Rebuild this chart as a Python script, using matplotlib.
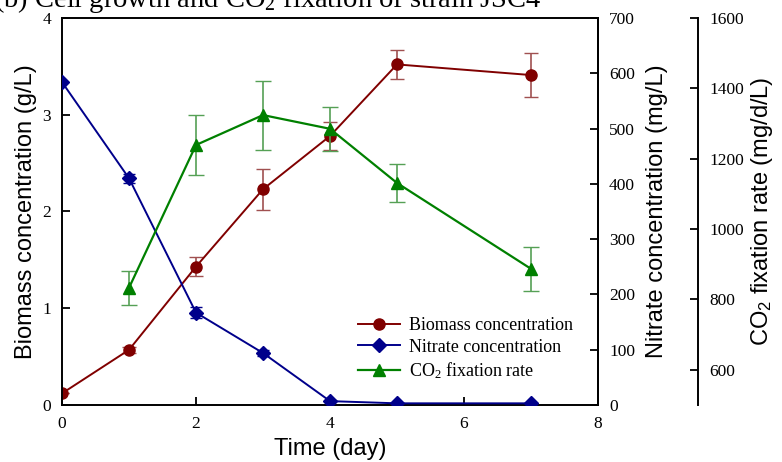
import matplotlib.pyplot as plt
from matplotlib.lines import Line2D

# data
days = [0, 1, 2, 3, 4, 5, 7]
biomass = [0.12, 0.57, 1.43, 2.23, 2.78, 3.52, 3.41]
biomass_err = [0.0, 0.03, 0.10, 0.21, 0.14, 0.15, 0.23]
nitrate = [584, 410, 167, 94, 7, 3, 3]
nitrate_err = [0, 8, 10, 6, 2, 1, 1]
co2_days = [1, 2, 3, 4, 5, 7]
co2_rate = [833, 1239, 1324, 1285, 1131, 887]
co2_err = [48, 84, 98, 63, 55, 62]

serif = 'Liberation Serif'
sans = 'Liberation Sans'
red = '#800000'
blue = '#00008B'
green = '#008000'

fig = plt.figure(figsize=(7.82, 4.62), dpi=100)
ax = fig.add_axes([0.0793, 0.1234, 0.6854, 0.8377])
ax2 = ax.twinx()
ax3 = ax.twinx()
ax3.spines['right'].set_position(('axes', 1.1866))
for a in (ax2, ax3):
    a.spines['top'].set_visible(False)
    a.spines['left'].set_visible(False)
    a.spines['bottom'].set_visible(False)

ax.errorbar(days, biomass, yerr=biomass_err, color=red, marker='o', ms=8,
            lw=1.4, capsize=5, elinewidth=1.2, ecolor='#a05050')
ax2.errorbar(days, nitrate, yerr=nitrate_err, color=blue, marker='D', ms=7,
             lw=1.4, capsize=4, elinewidth=1.2)
ax3.errorbar(co2_days, co2_rate, yerr=co2_err, color=green, marker='^', ms=9,
             lw=1.6, capsize=6, elinewidth=1.2, ecolor='#55a055')

ax.set_xlim(0, 8)
ax.set_ylim(0, 4)
ax.set_xticks([0, 2, 4, 6, 8])
ax.set_yticks([0, 1, 2, 3, 4])
ax2.set_ylim(0, 700)
ax2.set_yticks(range(0, 701, 100))
ax3.set_ylim(500, 1600)
ax3.set_yticks(range(600, 1601, 200))

for a in (ax, ax2, ax3):
    for s in a.spines.values():
        s.set_linewidth(1.4)
    a.tick_params(direction='in', length=6, width=1.3, labelsize=12.5, pad=8)
    for lab in a.get_xticklabels() + a.get_yticklabels():
        lab.set_fontfamily(serif)
ax.tick_params(top=False)

ax.set_xlabel('Time (day)', fontfamily=sans, fontsize=17, labelpad=4)
ax.set_ylabel('Biomass concentration (g/L)', fontfamily=sans, fontsize=17, labelpad=4)
ax2.set_ylabel('Nitrate concentration (mg/L)', fontfamily=sans, fontsize=17, labelpad=8)
ax3.set_ylabel('CO$\\mathregular{_2}$ fixation rate (mg/d/L)', fontfamily=sans,
               fontsize=17, labelpad=4)

handles = [
    Line2D([], [], color=red, marker='o', ms=8, lw=1.4),
    Line2D([], [], color=blue, marker='D', ms=7, lw=1.4),
    Line2D([], [], color=green, marker='^', ms=9, lw=1.6),
]
labels = ['Biomass concentration', 'Nitrate concentration',
          'CO$\\mathregular{_2}$ fixation rate']
ax.legend(handles, labels, loc='upper left', bbox_to_anchor=(0.536, 0.25),
          frameon=False, borderpad=0, prop={'family': serif, 'size': 13},
          handlelength=2.3, handletextpad=0.5, labelspacing=0.25)

fig.text(-0.008, 0.984, '(b) Cell growth and CO$\\mathregular{_2}$ fixation of strain JSC4',
         fontfamily=serif, fontsize=20.5, va='baseline')

fig.savefig('out.png', dpi=100)
